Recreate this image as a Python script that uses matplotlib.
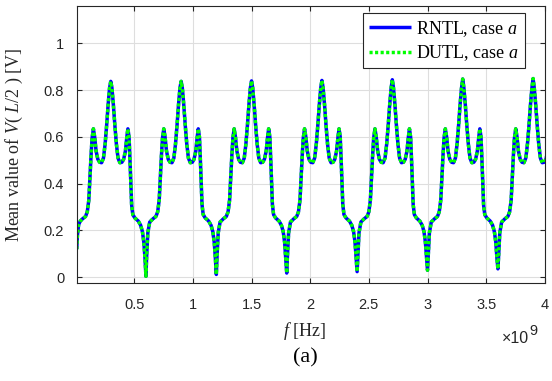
import numpy as np
import matplotlib
matplotlib.use('Agg')
import matplotlib.pyplot as plt
from matplotlib.ticker import MultipleLocator, FuncFormatter

plt.rcParams['mathtext.fontset'] = 'custom'
plt.rcParams['mathtext.rm'] = 'Liberation Serif'
plt.rcParams['mathtext.it'] = 'Liberation Serif:italic'

# one period of the response (offset from main peak in GHz, value in V)
shape_offset = [-0.300, -0.294, -0.284, -0.268, -0.240, -0.215, -0.200, -0.187,
                -0.178, -0.168, -0.159, -0.148, -0.137, -0.125, -0.110, -0.095,
                -0.078, -0.062, -0.048, -0.035, -0.022, -0.010, 0.000,
                0.010, 0.022, 0.035, 0.048, 0.062, 0.078, 0.095, 0.110,
                0.125, 0.137, 0.146, 0.156, 0.164, 0.171, 0.178, 0.188,
                0.205, 0.235, 0.255, 0.270, 0.282, 0.292]
shape_value = [None, 0.09, 0.19, 0.236, 0.25, 0.26, 0.28, 0.33,
               0.42, 0.52, 0.595, 0.635, 0.60, 0.54, 0.505, 0.492,
               0.49, 0.51, 0.57, 0.65, 0.74, 0.81, None,
               0.81, 0.74, 0.65, 0.57, 0.51, 0.49, 0.492, 0.505,
               0.54, 0.60, 0.635, 0.60, 0.50, 0.40, 0.31, 0.268,
               0.254, 0.24, 0.222, 0.195, 0.15, 0.08]

# main peaks and dips per period
peak_freq = [0.3, 0.9, 1.5, 2.1, 2.7, 3.3, 3.9]
peak_value = [0.838, 0.838, 0.840, 0.842, 0.845, 0.848, 0.850]
dip_value = [0.12, 0.004, 0.012, 0.018, 0.024, 0.030, 0.036]  # first one is start of sweep

# start of the sweep
start_freq = [0.01, 0.016, 0.026, 0.04]
start_value = [0.12, 0.18, 0.225, 0.24]

freq = []
volt = []
for k, c in enumerate(peak_freq):
    for off, v in zip(shape_offset, shape_value):
        if k == 0 and c + off < 0.06:
            continue
        if off == -0.300:
            v = dip_value[k]
        elif off == 0.0:
            v = peak_value[k]
        freq.append(c + off)
        volt.append(v)
freq = np.array(start_freq + freq) * 1e9
volt = np.array(start_value + volt)

fig = plt.figure(figsize=(5.52, 3.81), dpi=100)
ax = fig.add_axes([0.139, 0.257, 0.848, 0.727])

ax.plot(freq, volt, color='#0000ff', lw=2.5, solid_capstyle='butt',
        label='RNTL, case $a$')
ax.plot(freq, volt, color='#00ff00', lw=2.5, linestyle=(0, (0.9, 0.7)),
        label='DUTL, case $a$')

ax.set_xlim(0.01e9, 4e9)
ax.set_ylim(-0.025, 1.16)
ax.xaxis.set_major_locator(MultipleLocator(0.5e9))
ax.yaxis.set_major_locator(MultipleLocator(0.2))
ax.xaxis.set_major_formatter(FuncFormatter(lambda v, p: '%g' % round(v / 1e9, 3)))
ax.yaxis.set_major_formatter(FuncFormatter(lambda v, p: '%g' % round(v, 3)))

ax.grid(True, color='#dedede', lw=0.8)
ax.set_axisbelow(True)
for s in ax.spines.values():
    s.set_color('#262626')
    s.set_linewidth(0.8)
ax.tick_params(direction='in', length=3.5, width=0.8, color='#262626',
               top=True, right=True, labelcolor='#262626', labelsize=10.5)
ax.tick_params(axis='x', pad=11)
ax.tick_params(axis='y', pad=9)
for lab in ax.get_xticklabels() + ax.get_yticklabels():
    lab.set_fontfamily('Liberation Sans')

ax.set_ylabel('Mean value of $V$( $L/2$ ) [V]', fontfamily='Liberation Serif',
              fontsize=13, color='#262626')
ax.yaxis.set_label_coords(-0.11, 0.5)
ax.set_xlabel('$f$ [Hz]', fontfamily='Liberation Serif', fontsize=13, color='#262626')
ax.xaxis.set_label_coords(0.487, -0.135)

fig.text(529 / 552, 1 - 343 / 381, '\u00d710', fontfamily='Liberation Sans',
         fontsize=11.5, color='#262626', ha='right', va='baseline')
fig.text(529.8 / 552, 1 - 335 / 381, '9', fontfamily='Liberation Sans',
         fontsize=10.5, color='#262626', ha='left', va='baseline')
fig.text(305 / 552, 1 - 358 / 381, '(a)', fontfamily='Liberation Serif',
         fontsize=16, ha='center', va='center')

leg = ax.legend(loc='upper right', bbox_to_anchor=(0.957, 0.974), borderaxespad=0,
                fancybox=False, framealpha=1, edgecolor='#262626',
                prop={'family': 'Liberation Serif', 'size': 13},
                handlelength=2.35, handletextpad=0.3, borderpad=0.3,
                labelspacing=0.25)
leg.get_frame().set_linewidth(0.8)

fig.savefig('out.png', dpi=100)
